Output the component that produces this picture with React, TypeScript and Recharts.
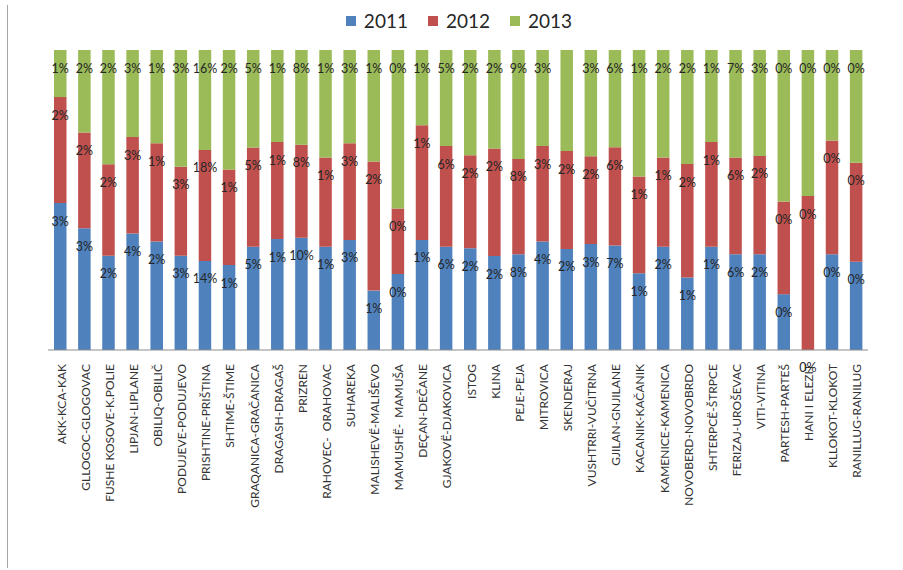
import React from 'react';
import { BarChart, Bar, XAxis, YAxis, LabelList } from 'recharts';

const categories = [
  'AKK-KCA-KAK', 'GLLOGOC-GLOGOVAC', 'FUSHE KOSOVE-K.POLIE', 'LIPJAN-LIPLANE', 'OBILIQ-OBILIČ',
  'PODUJEVE-PODUJEVO', 'PRISHTINE-PRIŠTINA', 'SHTIME-ŠTIME', 'GRAQANICA-GRAČANICA', 'DRAGASH-DRAGAŠ',
  'PRIZREN', 'RAHOVEC-  ORAHOVAC', 'SUHAREKA', 'MALISHEVË-MALIŠEVO', 'MAMUSHË-  MAMUŠA',
  'DEÇAN-DEČANE', 'GJAKOVË-DJAKOVICA', 'ISTOG', 'KLINA', 'PEJE-PEJA', 'MITROVICA', 'SKENDERAJ',
  'VUSHTRRI-VUČITRNA', 'GJILAN-GNJILANE', 'KACANIK-KAČANIK', 'KAMENICE-KAMENICA', 'NOVOBERD-NOVOBRDO',
  'SHTERPCË-ŠTRPCE', 'FERIZAJ-UROŠEVAC', 'VITI-VITINA', 'PARTESH-PARTEŠ', 'HANI I ELEZIT',
  'KLLOKOT-KLOKOT', 'RANILLUG-RANILUG',
];

const series = ['2011', '2012', '2013'];
const colors = ['#4F81BD', '#C0504D', '#9BBB59'];

const values2011 = [49, 40.6, 31.4, 38.8, 36.2, 31.4, 29.7, 28.3, 34.4, 37, 37.4, 34.4, 36.7, 19.8, 25.3, 36.7, 34.4, 33.9, 31.3, 31.9, 36.2, 33.7, 35.3, 34.8, 25.6, 34.4, 24.2, 34.4, 31.9, 31.9, 18.6, 0.01, 31.9, 29.4];
const values2012 = [35.3, 31.9, 30.5, 32.2, 32.7, 29.7, 37, 31.9, 33.1, 32.3, 31, 29.8, 32.2, 43, 21.9, 38.2, 33.6, 31, 35.9, 31.8, 31.8, 32.6, 29.3, 32.8, 32.2, 29.8, 37.8, 34.9, 32.3, 32.8, 30.9, 51.3, 37.9, 33];
const values2013 = [15.7, 27.5, 38.1, 29, 31.1, 38.9, 33.3, 39.8, 32.5, 30.7, 31.6, 35.8, 31.1, 37.2, 52.8, 25.1, 32, 35.1, 32.8, 36.3, 32, 33.7, 35.4, 32.4, 42.2, 35.8, 38, 30.7, 35.8, 35.3, 50.5, 48.7, 30.2, 37.6];

const labels2011 = ['3%', '3%', '2%', '4%', '2%', '3%', '14%', '1%', '5%', '1%', '10%', '1%', '3%', '1%', '0%', '1%', '6%', '2%', '2%', '8%', '4%', '2%', '3%', '7%', '1%', '2%', '1%', '1%', '6%', '2%', '0%', '0%', '0%', '0%'];
const labels2012 = ['2%', '2%', '2%', '3%', '1%', '3%', '18%', '1%', '5%', '1%', '8%', '1%', '3%', '2%', '0%', '1%', '6%', '2%', '2%', '8%', '3%', '2%', '2%', '6%', '1%', '1%', '2%', '1%', '6%', '2%', '0%', '0%', '0%', '0%'];
const labels2013 = ['1%', '2%', '2%', '3%', '1%', '3%', '16%', '2%', '5%', '1%', '8%', '1%', '3%', '1%', '0%', '1%', '5%', '2%', '2%', '9%', '3%', '', '3%', '6%', '1%', '2%', '2%', '1%', '7%', '3%', '0%', '0%', '0%', '0%'];

const data = categories.map((name, i) => ({
  name,
  v2011: values2011[i],
  v2012: values2012[i],
  v2013: values2013[i],
  l2011: labels2011[i],
  l2012: labels2012[i],
  l2013: labels2013[i],
}));

const FONT = 'Lato, "Open Sans", sans-serif';

const renderLabel = (props: any) => {
  const { x, y, width, value } = props;
  if (!value) return null;
  return (
    <text
      x={Number(x) + Number(width) / 2}
      y={Number(y) + 18}
      textAnchor="middle"
      dominantBaseline="central"
      fontFamily={FONT}
      fontSize={12.5}
      fill="#262626"
    >
      {value}
    </text>
  );
};

const Tick = (props: any) => {
  const { x, y, payload } = props;
  const tx = Number(x) + 1;
  const ty = Number(y) + 14;
  return (
    <text
      x={tx}
      y={ty}
      transform={`rotate(-90, ${tx}, ${ty})`}
      textAnchor="end"
      dominantBaseline="central"
      fontFamily={FONT}
      fontSize={12}
      fill="#333333"
      style={{ whiteSpace: 'pre' }}
    >
      {payload.value}
    </text>
  );
};

export default function App() {
  return (
    <div style={{ position: 'absolute', left: 0, top: 0, width: 903, height: 570, background: '#ffffff' }}>
      <div style={{ position: 'absolute', left: 7, top: 5, width: 1, height: 563, background: '#a6a6a6' }} />
      <div
        style={{
          position: 'absolute',
          left: 0,
          top: 9,
          width: 918,
          display: 'flex',
          justifyContent: 'center',
          alignItems: 'center',
          fontFamily: FONT,
          fontSize: 19,
          color: '#262626',
          lineHeight: '24px',
        }}
      >
        {series.map((s, i) => (
          <div key={s} style={{ display: 'flex', alignItems: 'center', marginRight: i < series.length - 1 ? 20 : 0 }}>
            <span style={{ display: 'inline-block', width: 10, height: 10, background: colors[i], marginRight: 8 }} />
            <span>{s}</span>
          </div>
        ))}
      </div>
      <BarChart
        width={903}
        height={570}
        data={data}
        stackOffset="expand"
        margin={{ top: 50, right: 35, left: 48, bottom: 0 }}
      >
        <XAxis
          dataKey="name"
          interval={0}
          height={220}
          tickLine={false}
          tickSize={0}
          tickMargin={0}
          axisLine={{ stroke: '#8c8c8c', strokeWidth: 1 }}
          tick={<Tick />}
        />
        <YAxis hide domain={[0, 1]} />
        <Bar dataKey="v2011" name="2011" stackId="a" fill={colors[0]} barSize={12.5} isAnimationActive={false}>
          <LabelList dataKey="l2011" content={renderLabel} />
        </Bar>
        <Bar dataKey="v2012" name="2012" stackId="a" fill={colors[1]} barSize={12.5} isAnimationActive={false}>
          <LabelList dataKey="l2012" content={renderLabel} />
        </Bar>
        <Bar dataKey="v2013" name="2013" stackId="a" fill={colors[2]} barSize={12.5} isAnimationActive={false}>
          <LabelList dataKey="l2013" content={renderLabel} />
        </Bar>
      </BarChart>
    </div>
  );
}
